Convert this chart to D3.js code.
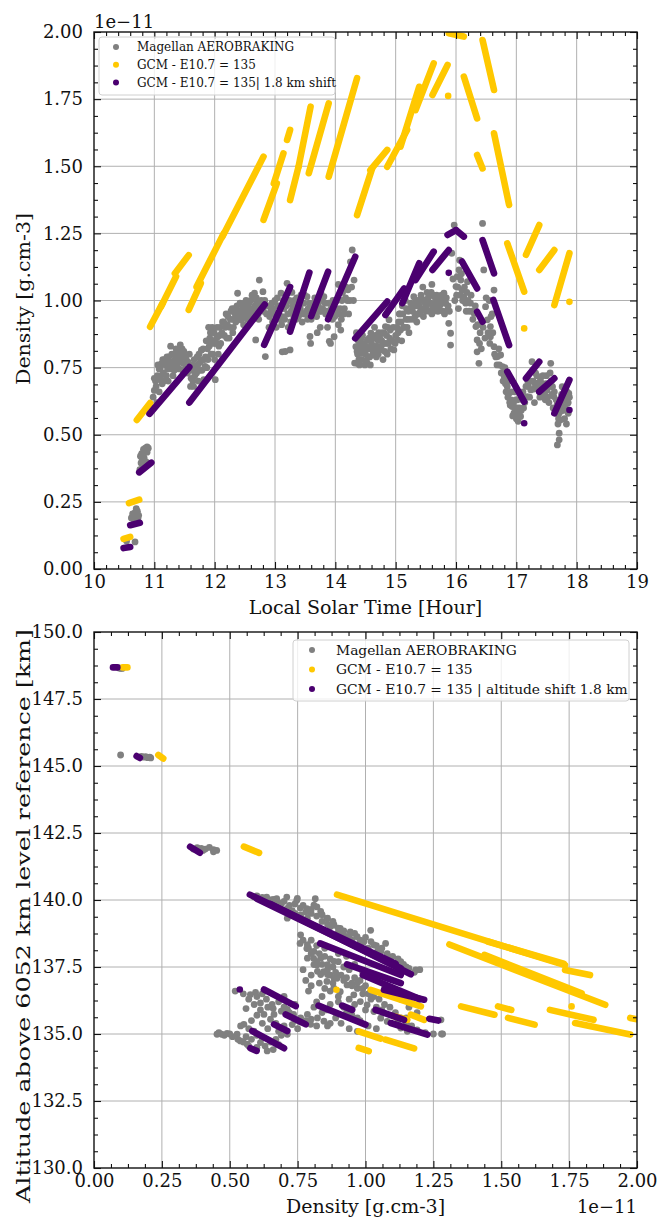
<!DOCTYPE html>
<html><head><meta charset="utf-8">
<script src="https://cdn.jsdelivr.net/npm/d3@7"></script>
<style>body{margin:0;background:#fff}svg text{font-family:"DejaVu Serif",serif;fill:#111}</style>
</head><body><svg id="c" width="657" height="1220"></svg>
<script>
// ---------- tick labels / categories ----------
const topXTicks = [10,11,12,13,14,15,16,17,18,19];
const topYTicks = [0,0.25,0.5,0.75,1.0,1.25,1.5,1.75,2.0];
const botXTicks = [0,0.25,0.5,0.75,1.0,1.25,1.5,1.75,2.0];
const botYTicks = [130,132.5,135,137.5,140,142.5,145,147.5,150];
const seriesNames = ["Magellan AEROBRAKING","GCM - E10.7 = 135","GCM - E10.7 = 135| 1.8 km shift"];
const seriesNamesBot = ["Magellan AEROBRAKING","GCM - E10.7 = 135","GCM - E10.7 = 135 | altitude shift 1.8 km"];
const seriesColors = ["#808080","#ffc800","#4b0070"];

// ---------- top panel: density (1e-11 g/cm3) vs local solar time ----------
const magellanLst = [
[10.54,0.104],[10.68,0.101],[10.62,0.19],[10.64,0.205],[10.66,0.2],[10.68,0.21],[10.7,0.195],[10.72,0.215],[10.66,0.185],[10.74,0.2],[10.7,0.225],[10.73,0.19],
[10.76,0.37],[10.78,0.395],[10.8,0.41],[10.79,0.43],[10.82,0.445],[10.85,0.45],[10.88,0.435],[10.9,0.45],[10.83,0.415],[10.86,0.4],[10.81,0.385],[10.77,0.42],[10.84,0.44],[10.88,0.455],
[10.96,0.6],[10.98,0.64],[11.0,0.665],[11.02,0.7],[11.0,0.71],[11.05,0.72],[11.03,0.68],[11.08,0.745],[11.1,0.705],[11.1,0.75],[11.12,0.765],[11.15,0.73],[11.17,0.78],[11.2,0.72],[11.22,0.745],[11.24,0.79],[11.27,0.83],[11.28,0.745],[11.3,0.77],[11.32,0.8],[11.35,0.76],[11.37,0.79],[11.4,0.81],[11.43,0.835],[11.42,0.78],[11.45,0.8],[11.48,0.765],[11.5,0.79],[11.52,0.745],[11.55,0.73],[11.56,0.77],[11.13,0.69],[11.19,0.76],[11.25,0.77],[11.06,0.76],[11.33,0.74],[11.46,0.82],[11.38,0.755],
[11.04,0.62],[11.08,0.66],[11.11,0.72],[11.14,0.78],[11.16,0.7],[11.21,0.79],[11.23,0.7],[11.26,0.76],[11.29,0.8],[11.31,0.72],[11.34,0.78],[11.36,0.82],[11.39,0.77],[11.41,0.745],[11.44,0.79],[11.47,0.74],[11.49,0.81],[11.53,0.78],[11.58,0.8],
[11.6,0.68],[11.64,0.7],[11.67,0.72],[11.7,0.73],[11.72,0.76],[11.75,0.74],[11.78,0.815],[11.8,0.78],[11.82,0.705],[11.84,0.755],[11.87,0.75],[11.88,0.82],[11.9,0.9],[11.92,0.86],[11.94,0.8],[11.96,0.9],[11.98,0.84],[12.0,0.78],[12.01,0.705],[12.03,0.86],[12.05,0.865],[12.07,0.83],[12.09,0.9],[11.66,0.78],[11.74,0.8],[11.85,0.79],[11.62,0.74],
[11.61,0.71],[11.63,0.76],[11.65,0.68],[11.68,0.75],[11.71,0.79],[11.73,0.7],[11.76,0.77],[11.79,0.74],[11.81,0.82],[11.83,0.78],[11.86,0.85],[11.89,0.78],[11.91,0.83],[11.93,0.88],[11.95,0.85],[11.97,0.8],[11.99,0.88],[12.02,0.84],[12.04,0.9],[12.06,0.8],[12.08,0.87],[12.1,0.84],
[12.12,0.88],[12.15,0.92],[12.18,0.9],[12.22,0.94],[12.25,0.9],[12.27,0.96],[12.3,0.93],[12.33,0.97],[12.35,0.92],[12.38,1.027],[12.41,0.96],[12.44,0.927],[12.46,0.98],[12.5,0.95],[12.52,1.0],[12.55,0.977],[12.58,0.94],[12.6,1.0],[12.63,0.97],[12.66,1.027],[12.68,0.853],[12.7,0.99],[12.72,0.95],[12.74,1.076],[12.77,1.0],[12.8,1.033],[12.81,0.96],[12.84,0.791],[12.2,0.86],[12.3,0.88],[12.48,0.91],
[12.13,0.92],[12.16,0.87],[12.19,0.95],[12.21,0.91],[12.24,0.86],[12.26,0.93],[12.29,0.97],[12.31,0.9],[12.34,0.95],[12.37,0.98],[12.39,0.94],[12.42,0.99],[12.45,0.96],[12.47,0.94],[12.49,0.99],[12.51,0.97],[12.54,0.93],[12.57,0.99],[12.59,0.96],[12.62,1.02],[12.64,0.95],[12.67,0.98],[12.69,1.01],[12.71,0.97],[12.73,0.93],[12.76,0.97],[12.79,0.98],[12.83,1.0],[12.86,0.95],[12.88,0.98],
[12.9,0.9],[12.93,0.96],[12.96,0.92],[12.99,0.952],[13.02,0.9],[13.05,0.98],[13.08,0.93],[13.1,1.027],[13.12,0.94],[13.12,0.809],[13.15,0.97],[13.17,0.81],[13.2,1.064],[13.22,0.9],[13.25,0.816],[13.27,0.96],[13.3,0.95],[13.32,1.0],[13.35,0.93],[13.38,0.98],[13.4,0.96],[13.43,1.02],[13.45,0.92],[13.48,0.99],[13.5,0.95],[13.53,1.014],[13.55,0.97],[13.58,0.866],[13.59,0.84],[13.6,0.93],[13.0,1.0],[13.28,1.03],
[12.91,0.94],[12.95,0.99],[12.97,0.97],[13.01,0.95],[13.04,1.01],[13.06,0.95],[13.09,0.98],[13.11,0.91],[13.14,1.0],[13.16,0.93],[13.19,0.98],[13.21,0.95],[13.24,1.0],[13.26,0.92],[13.29,0.98],[13.31,0.94],[13.34,0.97],[13.36,1.01],[13.39,0.94],[13.42,0.97],[13.44,0.99],[13.47,0.95],[13.49,1.02],[13.52,0.96],[13.54,0.93],[13.57,0.99],
[13.63,0.97],[13.66,1.01],[13.69,0.94],[13.72,0.98],[13.75,0.9],[13.78,1.0],[13.81,1.014],[13.84,0.95],[13.87,0.9],[13.9,0.848],[13.92,0.84],[13.95,0.93],[13.98,0.865],[14.0,0.96],[14.03,1.0],[14.06,0.95],[14.09,0.89],[14.1,0.93],[14.12,1.03],[14.15,0.97],[14.18,1.05],[14.2,1.0],[14.22,0.95],[14.25,1.144],[14.28,1.188],[14.31,1.076],[14.3,1.0],[13.7,0.88],[13.77,0.96],[14.05,1.06],
[13.61,0.96],[13.64,0.99],[13.67,0.95],[13.71,1.0],[13.74,0.96],[13.76,1.03],[13.79,0.97],[13.83,0.99],[13.86,0.96],[13.89,0.99],[13.93,0.97],[13.96,1.0],[13.99,0.94],[14.02,0.97],[14.05,0.91],[14.08,0.97],[14.11,1.0],[14.14,0.95],[14.17,1.01],[14.21,1.04],[14.24,1.0],[14.27,1.05],
[14.32,0.767],[14.34,0.828],[14.36,0.766],[14.36,0.81],[14.38,0.85],[14.4,0.82],[14.42,0.803],[14.44,0.78],[14.46,0.84],[14.48,0.828],[14.5,0.8],[14.52,0.77],[14.53,0.853],[14.55,0.82],[14.57,0.79],[14.59,0.878],[14.6,0.84],[14.62,0.8],[14.64,0.86],[14.66,0.82],[14.68,0.79],[14.7,0.853],[14.72,0.88],[14.73,0.82],[14.75,0.816],[14.77,0.85],[14.79,0.78],[14.81,0.878],[14.83,0.903],[14.84,0.84],[14.86,0.8],[14.89,0.928],[14.9,0.86],[14.92,0.82],[14.45,0.87],[14.65,0.9],[14.4,0.76],[14.58,0.76],
[14.35,0.88],[14.37,0.8],[14.39,0.78],[14.41,0.84],[14.43,0.86],[14.47,0.81],[14.49,0.76],[14.51,0.83],[14.54,0.79],[14.56,0.86],[14.58,0.82],[14.61,0.87],[14.63,0.83],[14.65,0.8],[14.67,0.87],[14.69,0.83],[14.71,0.8],[14.74,0.86],[14.76,0.83],[14.78,0.88],[14.8,0.84],[14.82,0.81],[14.85,0.87],[14.87,0.9],[14.88,0.84],[14.91,0.89],[14.94,0.85],[14.96,0.9],[14.99,0.84],
[14.97,0.816],[15.0,0.87],[15.03,0.853],[15.05,0.92],[15.08,0.89],[15.1,0.85],[15.12,0.95],[15.15,0.9],[15.18,0.97],[15.2,0.93],[15.22,0.88],[15.25,0.99],[15.28,0.96],[15.3,1.014],[15.32,0.94],[15.35,0.98],[15.38,1.0],[15.4,0.95],[15.42,1.02],[15.45,0.97],[15.47,1.002],[15.5,0.96],[15.52,1.03],[15.55,0.99],[15.58,0.99],[15.6,0.95],[15.62,1.02],[15.64,1.014],[15.66,0.97],[15.69,0.977],[15.72,1.0],[15.75,1.002],[15.78,0.96],[15.8,1.027],[15.83,0.99],[15.86,0.965],[15.88,0.915],[15.91,0.878],[15.91,0.834],[15.07,0.95],[15.35,0.92],[15.45,1.05],[15.6,1.06],[15.16,1.0],
[15.02,0.9],[15.04,0.88],[15.06,0.95],[15.09,0.92],[15.11,0.98],[15.13,0.9],[15.17,0.93],[15.19,0.9],[15.21,0.96],[15.24,0.93],[15.26,0.97],[15.29,0.93],[15.31,0.98],[15.34,1.0],[15.36,0.95],[15.39,0.98],[15.41,0.96],[15.44,1.0],[15.46,0.94],[15.49,0.99],[15.51,0.97],[15.54,1.01],[15.56,0.96],[15.59,1.03],[15.61,0.98],[15.63,0.96],[15.65,0.99],[15.68,1.02],[15.7,0.96],[15.73,0.98],[15.76,1.02],[15.79,0.99],[15.81,0.95],[15.84,1.01],[15.87,0.98],[15.89,0.96],
[15.93,1.176],[15.97,1.281],[15.95,1.08],[16.0,1.052],[16.02,1.089],[16.05,1.114],[16.06,1.15],[16.08,1.076],[16.1,1.039],[16.13,1.014],[16.16,0.99],[16.18,1.03],[16.2,1.0],[16.24,0.99],[16.27,0.96],[16.3,0.952],[16.33,0.903],[16.35,0.853],[16.35,0.809],[16.38,0.766],[16.4,0.88],[16.44,1.287],[16.46,1.114],[16.49,0.977],[16.52,0.928],[16.55,1.0],[16.57,0.903],[16.57,0.865],[16.6,0.95],[16.63,1.039],[16.63,0.828],[15.98,1.0],[16.04,0.97],
[16.01,1.02],[16.03,1.05],[16.07,1.02],[16.09,1.1],[16.11,1.0],[16.14,1.05],[16.17,0.96],[16.19,1.07],[16.22,0.96],[16.25,1.02],[16.28,0.93],[16.32,0.98],[16.36,0.91],[16.39,0.84],[16.42,0.82],[16.45,0.9],[16.48,0.86],[16.5,1.01],[16.53,0.88],[16.56,0.84],[16.58,0.94],[16.61,0.88],[16.64,0.8],
[16.66,0.79],[16.69,0.791],[16.72,0.76],[16.74,0.797],[16.77,0.754],[16.79,0.73],[16.8,0.717],[16.82,0.69],[16.85,0.679],[16.86,0.64],[16.88,0.655],[16.9,0.61],[16.91,0.63],[16.93,0.605],[16.95,0.62],[16.96,0.58],[16.98,0.6],[17.0,0.56],[17.02,0.592],[17.02,0.63],[17.04,0.57],[17.07,0.568],[17.1,0.63],[17.12,0.6],[16.84,0.72],[16.97,0.66],
[16.68,0.76],[16.71,0.82],[16.75,0.73],[16.78,0.7],[16.81,0.75],[16.83,0.66],[16.87,0.7],[16.89,0.62],[16.92,0.66],[16.94,0.57],[16.99,0.63],[17.01,0.6],[17.03,0.55],[17.05,0.6],[17.08,0.59],[17.11,0.66],[17.14,0.62],
[17.18,0.642],[17.2,0.68],[17.24,0.667],[17.26,0.772],[17.28,0.7],[17.32,0.729],[17.35,0.692],[17.38,0.66],[17.4,0.704],[17.43,0.65],[17.46,0.679],[17.48,0.63],[17.51,0.667],[17.54,0.62],[17.57,0.766],[17.58,0.7],[17.6,0.679],[17.62,0.642],[17.65,0.6],[17.68,0.617],[17.7,0.56],[17.71,0.58],[17.73,0.555],[17.71,0.506],[17.71,0.481],[17.68,0.462],[17.74,0.62],[17.76,0.679],[17.79,0.605],[17.82,0.642],[17.85,0.617],[17.87,0.654],[17.86,0.58],[17.83,0.54],[17.8,0.56],[17.3,0.62],[17.5,0.72],
[17.16,0.68],[17.19,0.7],[17.22,0.64],[17.25,0.7],[17.27,0.74],[17.29,0.67],[17.31,0.69],[17.34,0.72],[17.37,0.68],[17.39,0.64],[17.42,0.69],[17.44,0.72],[17.47,0.65],[17.49,0.69],[17.52,0.64],[17.55,0.68],[17.56,0.73],[17.59,0.65],[17.61,0.6],[17.63,0.66],[17.66,0.63],[17.67,0.58],[17.69,0.54],[17.72,0.6],[17.75,0.65],[17.77,0.59],[17.78,0.63],[17.81,0.6],[17.84,0.66],[17.86,0.62],[17.88,0.64]
];
// GCM tracks: [t0, rho0, t1, rho1]
const gcmLst = [
[10.49,0.112,10.6,0.12],[10.58,0.245,10.75,0.258],[10.71,0.555,10.93,0.618],
[10.93,0.902,11.14,0.991],[11.11,0.977,11.36,1.089],[11.34,1.101,11.57,1.169],
[11.57,0.965,11.77,1.064],[11.7,1.051,12.15,1.25],[12.13,1.238,12.81,1.536],
[12.81,1.3,13.03,1.436],[12.98,1.436,13.14,1.548],[13.2,1.598,13.25,1.635],
[13.25,1.374,13.39,1.498],[13.39,1.498,13.59,1.722],[13.56,1.474,13.89,1.734],
[13.89,1.461,14.36,1.828],[14.36,1.318,14.61,1.492],[14.58,1.486,14.86,1.561],
[14.86,1.498,15.19,1.635],[15.08,1.573,15.39,1.796],[15.33,1.709,15.63,1.883],
[15.61,1.765,15.86,1.877],[15.87,1.762,15.87,1.762],[15.88,1.995,16.13,1.983],
[16.44,1.97,16.63,1.784],[16.13,1.834,16.35,1.678],[16.35,1.542,16.44,1.492],
[16.63,1.623,16.88,1.356],[16.85,1.213,17.13,1.033],[17.13,0.896,17.13,0.896],
[17.16,1.17,17.38,1.281],[17.38,1.114,17.63,1.188],[17.63,0.983,17.88,1.176],[17.88,0.995,17.88,0.995]
];
const gcmShiftLst = [
[10.49,0.078,10.6,0.082],[10.6,0.163,10.76,0.172],[10.75,0.36,10.95,0.396],
[10.92,0.578,11.58,0.752],[11.58,0.62,12.83,0.985],[12.82,0.835,13.25,1.05],
[13.25,0.884,13.57,1.104],[13.6,0.942,13.88,1.107],[13.88,0.93,14.33,1.163],
[14.33,0.859,14.86,0.996],[14.83,0.946,15.14,1.045],[15.11,0.99,15.39,1.139],
[15.33,1.076,15.63,1.182],[15.61,1.114,15.88,1.188],[15.88,1.103,15.88,1.103],
[15.86,1.244,16.0,1.262],[16.0,1.262,16.13,1.238],[16.1,1.145,16.35,1.045],
[16.44,1.225,16.63,1.101],[16.35,0.958,16.44,0.921],[16.62,1.002,16.88,0.834],
[16.85,0.735,17.13,0.623],[17.13,0.543,17.13,0.543],[17.16,0.71,17.38,0.772],
[17.38,0.66,17.63,0.71],[17.63,0.58,17.88,0.704],[17.88,0.592,17.88,0.592]
];

// ---------- bottom panel: altitude vs density ----------
const magellanAlt = [
[0.098,148.64],[0.092,148.66],[0.104,148.64],
[0.098,145.41],[0.182,145.33],[0.19,145.35],[0.197,145.31],[0.205,145.33],[0.209,145.3],[0.175,145.36],
[0.366,141.9],[0.38,141.95],[0.395,141.93],[0.41,141.9],[0.425,141.96],[0.44,141.88],[0.452,141.85],[0.44,141.8],[0.401,141.85],
[0.589,140.12],[0.613,140.06],[0.636,140.11],[0.65,140.0],[0.663,139.94],[0.673,140.05],[0.69,139.85],[0.71,140.11],[0.712,139.69],[0.73,139.6],[0.747,139.99],[0.749,140.06],[0.761,139.44],[0.77,139.8],[0.784,139.68],[0.786,139.32],[0.81,139.81],[0.815,140.05],[0.821,139.74],[0.835,139.57],[0.84,139.2],[0.858,139.31],[0.86,139.32],[0.87,139.0],[0.883,139.06],[0.884,139.07],[0.9,138.8],[0.907,138.94],[0.92,138.7],[0.944,138.81],[0.95,138.5],[0.969,138.63],[0.98,138.3],[0.994,138.44],[1.01,138.2],[1.019,138.87],[1.031,138.32],[1.045,138.1],[1.056,138.07],[1.074,138.38],[1.08,137.82],[1.09,137.7],[1.105,137.57],[1.13,137.7],[1.15,137.5],[1.185,137.39],[0.712,139.32],[0.74,139.5],[0.8,139.5],
[0.6,140.15],[0.62,140.1],[0.64,139.95],[0.66,140.02],[0.68,139.9],[0.7,139.95],[0.72,139.8],[0.74,139.85],[0.76,139.7],[0.78,139.55],[0.8,139.65],[0.82,139.4],[0.84,139.45],[0.86,139.1],[0.88,139.2],[0.9,138.95],[0.92,138.85],[0.94,138.65],[0.96,138.75],[0.98,138.5],[1.0,138.6],[1.02,138.45],[1.04,138.3],[1.06,138.2],[1.08,138.0],[1.1,137.9],[1.12,137.8],[1.14,137.6],[1.16,137.45],[1.18,137.3],[1.2,137.4],
[0.761,138.7],[0.786,138.33],[0.759,138.38],[0.784,138.19],[0.786,137.83],[0.81,138.08],[0.81,137.59],[0.809,137.82],[0.823,137.34],[0.821,137.57],[0.835,137.83],[0.835,137.22],[0.846,137.33],[0.86,137.59],[0.86,137.22],[0.87,137.2],[0.884,137.71],[0.884,137.09],[0.895,137.08],[0.858,136.96],[0.883,136.71],[0.907,136.58],[0.932,136.83],[0.957,136.46],[0.981,136.21],[1.006,136.09],[1.031,135.84],[1.056,135.59],[1.08,135.47],[1.13,135.22],[1.154,135.1],[1.284,135.0],[1.278,135.53],[0.92,137.0],[0.95,136.9],[0.97,136.7],[0.99,136.5],[0.94,136.3],[0.96,136.1],[1.0,135.9],[1.02,136.3],[1.04,136.0],[0.9,136.4],[0.87,136.6],[0.93,135.8],[0.97,135.6],[1.06,135.9],[1.1,135.7],[1.12,135.5],[0.9,138.0],[0.93,137.9],[0.96,137.6],[0.99,137.3],[0.8,138.5],[0.83,138.0],[0.85,137.9],[0.78,137.0],[0.8,136.8],[0.84,136.4],[0.87,136.1],
[0.77,138.5],[0.79,138.2],[0.8,138.0],[0.82,138.3],[0.82,137.7],[0.84,137.6],[0.85,138.2],[0.86,137.4],[0.87,137.8],[0.88,137.5],[0.89,137.3],[0.9,137.7],[0.91,137.2],[0.92,137.5],[0.93,137.1],[0.94,137.4],[0.95,136.8],[0.96,137.1],[0.97,136.9],[0.98,137.0],[0.99,136.7],[1.0,136.8],[1.01,136.5],[1.02,136.6],[1.03,136.4],[1.05,136.3],[1.07,136.1],[1.09,136.0],[1.11,135.8],[1.13,135.6],[1.15,135.4],[1.17,135.3],[1.19,135.15],[1.22,135.05],[1.25,135.0],[1.28,135.0],[0.8,137.2],[0.83,136.9],[0.85,136.7],[0.88,136.9],[0.9,136.2],[0.92,136.0],[0.95,135.7],[0.98,135.5],[1.01,135.3],[1.04,135.2],[0.82,136.2],[0.86,135.9],[0.89,135.6],[0.91,135.4],[0.94,135.2],[0.97,135.1],[0.77,137.4],[0.79,136.6],[0.81,136.0],[0.84,135.8],[0.87,135.4],[1.07,136.7],[1.1,136.5],[1.13,136.3],[1.16,136.0],[1.19,135.8],[1.15,135.6],
[0.453,134.99],[0.47,134.99],[0.49,135.02],[0.527,134.99],[0.539,134.74],[0.564,134.62],[0.56,134.9],[0.589,135.11],[0.552,135.36],[0.576,136.47],[0.595,136.55],[0.613,136.16],[0.635,136.3],[0.656,136.1],[0.613,135.9],[0.626,135.73],[0.663,135.73],[0.69,135.85],[0.712,135.92],[0.735,135.73],[0.761,135.6],[0.786,135.73],[0.798,135.36],[0.823,135.6],[0.847,135.48],[0.86,135.3],[0.712,134.99],[0.638,134.37],[0.66,134.42],[0.613,134.68],[0.6,134.5],[0.68,134.6],[0.64,135.2],[0.7,135.3],[0.75,135.2],[0.58,135.5],[0.62,135.4],[0.55,136.5],[0.7,136.4],[0.74,136.1],[0.67,135.4],
[0.46,135.05],[0.48,134.95],[0.5,135.0],[0.51,134.9],[0.53,134.8],[0.55,134.7],[0.57,134.55],[0.58,134.8],[0.6,134.95],[0.62,134.85],[0.63,134.55],[0.65,134.7],[0.67,134.8],[0.69,134.95],[0.71,135.1],[0.73,135.35],[0.76,135.45],[0.78,135.5],[0.8,135.55],[0.82,135.3],[0.57,136.3],[0.59,136.1],[0.6,136.4],[0.62,136.5],[0.64,136.0],[0.66,135.95],[0.68,136.2],[0.7,136.0],[0.72,135.8],[0.65,135.55],[0.6,135.7],[0.56,135.95],[0.54,135.3],[0.57,135.2],[0.52,136.6],[0.68,135.1],[0.74,135.5]
];
// GCM tracks: [rho0, alt0, rho1, alt1]
const gcmAlt = [
[0.106,148.68,0.123,148.68],[0.237,145.41,0.255,145.28],[0.552,141.99,0.608,141.76],
[0.895,140.2,1.735,137.57],[1.45,138.45,1.73,137.62],[1.735,137.39,1.827,137.2],
[1.309,138.34,1.883,136.09],[1.438,137.95,1.796,136.52],
[1.352,136.03,1.475,135.72],[1.488,136.03,1.537,135.9],[1.525,135.6,1.623,135.35],
[1.679,135.9,1.84,135.53],[1.772,135.41,1.975,134.98],[1.975,135.6,2.0,135.55],
[1.019,136.65,1.204,136.03],[0.975,135.1,1.056,134.83],[1.074,134.79,1.179,134.46],
[0.975,134.48,1.012,134.36],[0.893,136.65,0.893,136.65],[1.105,135.66,1.154,135.53],
[1.167,135.72,1.216,135.53],[1.759,136.03,1.759,136.03]
];
const gcmShiftAlt = [
[0.07,148.68,0.086,148.68],[0.157,145.37,0.169,145.3],[0.354,141.99,0.39,141.76],
[0.574,140.2,1.111,137.62],[0.6,140.05,1.13,137.45],[0.65,139.85,1.167,137.23],
[0.833,138.38,1.13,137.2],[0.932,137.6,1.13,136.9],[0.99,137.2,1.2,136.3],
[1.068,136.65,1.216,136.28],[1.037,135.9,1.142,135.53],[1.093,135.41,1.228,134.98],
[1.235,135.57,1.268,135.5],[0.827,136.06,1.0,135.35],[0.914,136.06,0.951,135.9],
[0.537,136.66,0.537,136.66],[0.626,136.66,0.743,136.04],[0.706,135.73,0.78,135.36],
[0.663,135.36,0.712,135.11],[0.583,135.11,0.7,134.47],[0.576,134.47,0.599,134.37]
];

// ---------- drawing ----------
const svg = d3.select('#c');
const fmt2 = d3.format('.2f'), fmt1 = d3.format('.1f'), fmt0 = d3.format('d');

function minorTicks(major, n){
  const out=[];
  for(let i=0;i<major.length-1;i++){
    const a=major[i], b=major[i+1];
    for(let k=1;k<n;k++) out.push(a+(b-a)*k/n);
  }
  return out;
}

function panel(o){
  const x = d3.scaleLinear().domain(o.xd).range([o.L,o.R]);
  const y = d3.scaleLinear().domain(o.yd).range([o.B,o.T]);
  const g = svg.append('g');
  g.selectAll(null).data(o.xt.slice(1,-1)).join('line')
    .attr('x1',d=>x(d)).attr('x2',d=>x(d)).attr('y1',o.T).attr('y2',o.B)
    .attr('stroke','#b0b0b0').attr('stroke-width',1);
  g.selectAll(null).data(o.yt.slice(1,-1)).join('line')
    .attr('y1',d=>y(d)).attr('y2',d=>y(d)).attr('x1',o.L).attr('x2',o.R)
    .attr('stroke','#b0b0b0').attr('stroke-width',1);
  svg.append('clipPath').attr('id','cp'+o.id).append('rect')
    .attr('x',o.L).attr('y',o.T).attr('width',o.R-o.L).attr('height',o.B-o.T);
  const dg = g.append('g').attr('clip-path',`url(#cp${o.id})`);
  dg.selectAll(null).data(o.gray).join('circle')
    .attr('cx',d=>x(d[0])).attr('cy',d=>y(d[1])).attr('r',3.4).attr('fill',seriesColors[0]);
  const line = d3.line().x(d=>x(d[0])).y(d=>y(d[1]));
  [[o.gold,seriesColors[1]],[o.purple,seriesColors[2]]].forEach(([arr,col])=>{
    dg.selectAll(null).data(arr).join('path')
      .attr('d',s=>line([[s[0],s[1]],[s[2],s[3]]]))
      .attr('fill','none').attr('stroke',col).attr('stroke-width',6.6).attr('stroke-linecap','round');
  });
  const add = (axis, tr) => { const a = g.append('g').attr('transform',tr).call(axis); a.select('.domain').remove(); a.selectAll('line').attr('stroke','#111').attr('stroke-width',1.1); return a; };
  const xm = minorTicks(o.xt,o.xn), ym = minorTicks(o.yt,o.yn);
  const bx = add(d3.axisBottom(x).tickValues(o.xt).tickSize(-7).tickSizeOuter(0).tickPadding(6).tickFormat(o.xf), `translate(0,${o.B})`);
  add(d3.axisBottom(x).tickValues(xm).tickSize(-4).tickSizeOuter(0).tickFormat(''), `translate(0,${o.B})`);
  add(d3.axisTop(x).tickValues(o.xt).tickSize(-7).tickSizeOuter(0).tickFormat(''), `translate(0,${o.T})`);
  add(d3.axisTop(x).tickValues(xm).tickSize(-4).tickSizeOuter(0).tickFormat(''), `translate(0,${o.T})`);
  const ly = add(d3.axisLeft(y).tickValues(o.yt).tickSize(-7).tickSizeOuter(0).tickPadding(11).tickFormat(o.yf), `translate(${o.L},0)`);
  add(d3.axisLeft(y).tickValues(ym).tickSize(-4).tickSizeOuter(0).tickFormat(''), `translate(${o.L},0)`);
  add(d3.axisRight(y).tickValues(o.yt).tickSize(-7).tickSizeOuter(0).tickFormat(''), `translate(${o.R},0)`);
  add(d3.axisRight(y).tickValues(ym).tickSize(-4).tickSizeOuter(0).tickFormat(''), `translate(${o.R},0)`);
  [bx,ly].forEach(a=>a.selectAll('text').attr('font-size',18).attr('font-family','DejaVu Serif').attr('fill','#111'));
  g.append('rect').attr('x',o.L).attr('y',o.T).attr('width',o.R-o.L).attr('height',o.B-o.T)
    .attr('fill','none').attr('stroke','#111').attr('stroke-width',1.4);
  g.append('text').attr('x',(o.L+o.R)/2).attr('y',o.B+45).attr('text-anchor','middle').attr('font-size',19).text(o.xlab);
  g.append('text').attr('transform',`translate(${o.ylx},${o.ylc}) rotate(-90)`).attr('text-anchor','middle')
    .attr('font-size',19).attr('textLength',o.yll).attr('lengthAdjust','spacingAndGlyphs').text(o.ylab);
  const lg = g.append('g');
  lg.append('rect').attr('x',o.lg.x).attr('y',o.lg.y).attr('width',o.lg.w).attr('height',o.lg.h).attr('rx',3)
    .attr('fill','#fff').attr('fill-opacity',0.8).attr('stroke','#d0d0d0');
  o.lg.names.forEach((nm,i)=>{
    const cy = o.lg.y + o.lg.r0 + i*o.lg.dy;
    lg.append('circle').attr('cx',o.lg.cx).attr('cy',cy).attr('r',3).attr('fill',seriesColors[i]);
    lg.append('text').attr('x',o.lg.tx).attr('y',cy+o.lg.fs*0.36).attr('font-size',o.lg.fs).text(nm);
  });
  return {x,y,g};
}

const P1 = panel({id:1,L:94,R:637,T:32,B:569,xd:[10,19],yd:[0,2],xt:topXTicks,yt:topYTicks,xn:5,yn:4,
  xf:fmt0,yf:fmt2,gray:magellanLst,gold:gcmLst,purple:gcmShiftLst,
  xlab:'Local Solar Time [Hour]',ylab:'Density [g.cm-3]',ylx:30,ylc:299,yll:172,
  lg:{x:99,y:37,w:236,h:58,cx:116,tx:137,r0:10,dy:17.7,fs:12,names:seriesNames}});
P1.g.append('text').attr('x',94).attr('y',28).attr('font-size',18).text('1e\u221211');

const P2 = panel({id:2,L:94,R:637,T:632,B:1168,xd:[0,2],yd:[130,150],xt:botXTicks,yt:botYTicks,xn:4,yn:4,
  xf:fmt2,yf:fmt1,gray:magellanAlt,gold:gcmAlt,purple:gcmShiftAlt,
  xlab:'Density [g.cm-3]',ylab:'Altitude above 6052 km level reference [km]',ylx:30,ylc:916,yll:574,
  lg:{x:293,y:640,w:336,h:61,cx:312,tx:336,r0:10,dy:19.5,fs:13.8,names:seriesNamesBot}});
P2.g.append('text').attr('x',637).attr('y',1213).attr('text-anchor','end').attr('font-size',18).text('1e\u221211');
</script></body></html>
